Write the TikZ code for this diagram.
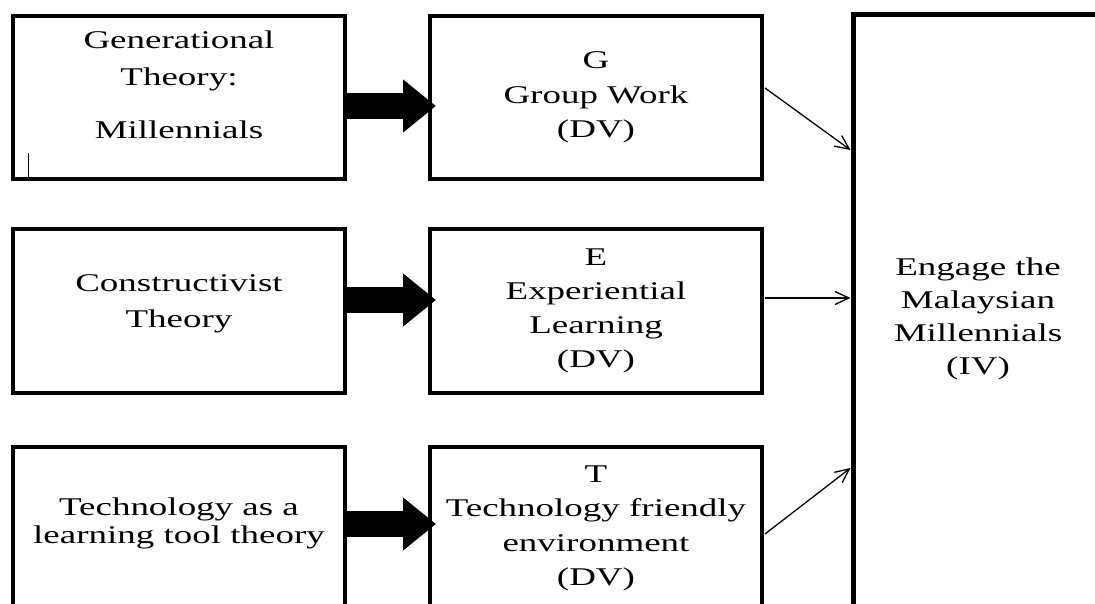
\documentclass[tikz,border=0pt]{standalone}
\usepackage{fontspec}
\setmainfont{Liberation Serif}[FakeStretch=1.45]
\usetikzlibrary{arrows.meta,calc}
\begin{document}
\begin{tikzpicture}[x=1pt,y=-1pt,
  box/.style={draw, line width=4pt, minimum width=332pt, minimum height=163pt, inner sep=2pt, align=center, font=\fontsize{25.5}{34.5}\selectfont},
  fatarrow/.style={line width=26pt, -{Triangle[length=33pt,width=51pt]}},
  thinarrow/.style={line width=1.3pt, -{Straight Barb[length=14pt,width=13pt]}}]
\useasboundingbox (0,0) rectangle (1095,604);
\clip (0,0) rectangle (1095,604);
\node[box, text depth=26pt, font=\fontsize{25.5}{37}\selectfont] (gen) at (179,97.5){Generational\\Theory:\\[16pt]Millennials};
\node[box, text depth=19pt, font=\fontsize{25.5}{36}\selectfont] (con) at (179,311){Constructivist\\Theory};
\node[box, text depth=16pt, font=\fontsize{25.5}{28}\selectfont] (tec) at (179,528.5){Technology as a\\learning tool theory};
\node[box] (G) at (596,97.5){G\\Group Work\\(DV)};
\node[box, font=\fontsize{25.5}{34}\selectfont] (E) at (596,311){E\\Experiential\\Learning\\(DV)};
\node[box] (T) at (596,528.5){T\\Technology friendly\\environment\\(DV)};
\node[box, line width=5pt, minimum width=250pt, minimum height=608pt, font=\fontsize{25.5}{33}\selectfont] (eng) at (978,319){Engage the\\Malaysian\\Millennials\\(IV)};
\draw[line width=1pt] (28,153) -- (28,180);
\draw[fatarrow] ($(gen.east)+(0,8.5)$) -- ($(G.west)+(8,8.5)$);
\draw[fatarrow] ($(con.east)+(0,-11)$) -- ($(E.west)+(8,-11)$);
\draw[fatarrow] ($(tec.east)+(0,-4.5)$) -- ($(T.west)+(8,-4.5)$);
\draw[thinarrow] ($(G.east)+(1,-9.5)$) -- ($(eng.north west)+(0,137.5)$);
\draw[thinarrow] ($(E.east)+(1,-13)$) coordinate (e1) -- (e1 -| eng.west);
\draw[thinarrow] ($(T.east)+(1,5.5)$) -- ($(eng.north west)+(0,455.5)$);
\end{tikzpicture}
\end{document}
